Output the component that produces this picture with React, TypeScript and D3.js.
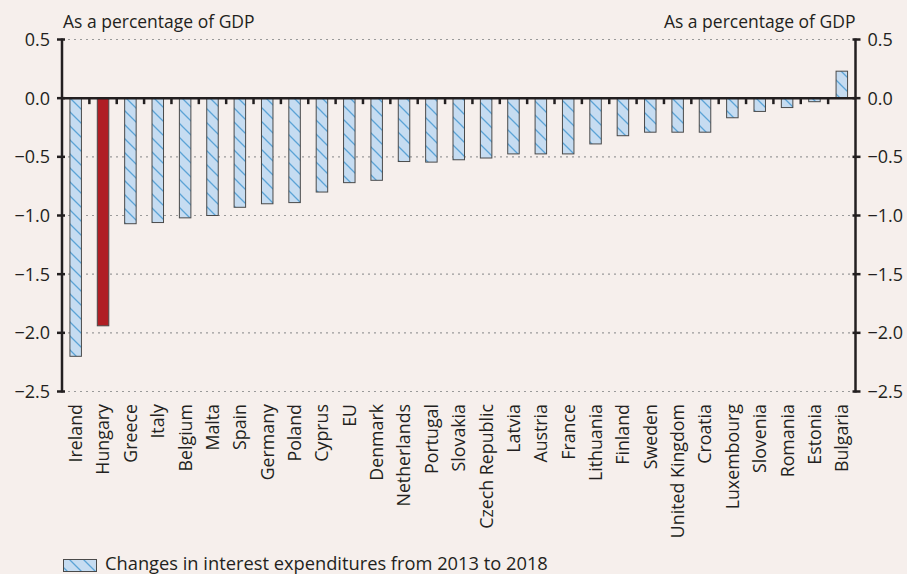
import { useMemo } from "react";
import * as d3 from "d3";

const countries = [
  "Ireland", "Hungary", "Greece", "Italy", "Belgium", "Malta", "Spain", "Germany",
  "Poland", "Cyprus", "EU", "Denmark", "Netherlands", "Portugal", "Slovakia",
  "Czech Republic", "Latvia", "Austria", "France", "Lithuania", "Finland", "Sweden",
  "United Kingdom", "Croatia", "Luxembourg", "Slovenia", "Romania", "Estonia", "Bulgaria",
];

const changes = [
  -2.2, -1.94, -1.07, -1.06, -1.02, -1.0, -0.93, -0.9,
  -0.89, -0.8, -0.72, -0.7, -0.54, -0.545, -0.525,
  -0.51, -0.475, -0.475, -0.475, -0.39, -0.32, -0.29,
  -0.29, -0.29, -0.167, -0.113, -0.08, -0.03, 0.23,
];

const highlighted = "Hungary";
const yTicks = [0.5, 0, -0.5, -1, -1.5, -2, -2.5];
const axisTitle = "As a percentage of GDP";
const legendLabel = "Changes in interest expenditures from 2013 to 2018";

const W = 907;
const H = 574;
const BG = "#f6efec";
const INK = "#231f20";
const FONT = "'Open Sans', sans-serif";

const fmt = (v: number) => (v < 0 ? "\u2212" : "") + Math.abs(v).toFixed(1);

export default function App() {
  const left = 62;
  const right = 855.5;
  const top = 39.5;
  const bottom = 391.5;

  const x = useMemo(
    () => d3.scaleBand().domain(countries).range([left, right]).paddingInner(0).paddingOuter(0),
    []
  );
  const y = useMemo(() => d3.scaleLinear().domain([-2.5, 0.5]).range([bottom, top]), []);
  const bw = 11.5;
  const y0 = y(0);

  return (
    <svg
      width={W}
      height={H}
      style={{ position: "absolute", left: 0, top: 0, display: "block" }}
      fontFamily={FONT}
    >
      <defs>
        <pattern id="hatch" patternUnits="userSpaceOnUse" width="14" height="14">
          <rect width="14" height="14" fill="#c6dcf1" />
          <path d="M-3.5,-3.5 L17.5,17.5 M-3.5,10.5 L3.5,17.5 M10.5,-3.5 L17.5,3.5" stroke="#5ba3d6" strokeWidth="1.3" />
        </pattern>
      </defs>
      <rect width={W} height={H} fill={BG} />

      {/* gridlines */}
      {yTicks
        .filter((t) => t !== 0)
        .map((t) => (
          <line
            key={t}
            x1={left}
            x2={right}
            y1={y(t)}
            y2={y(t)}
            stroke="#9a9a9a"
            strokeWidth={1.2}
            strokeDasharray="2 4"
          />
        ))}

      {/* bars */}
      {countries.map((c, i) => {
        const v = changes[i];
        const cx = (x(c) ?? 0) + x.bandwidth() / 2;
        const yy = Math.min(y(v), y0);
        const h = Math.abs(y(v) - y0);
        return (
          <rect
            key={c}
            x={cx - bw / 2}
            y={yy}
            width={bw}
            height={h}
            fill={c === highlighted ? "#b01e24" : "url(#hatch)"}
            stroke="#4a4a4a"
            strokeWidth={1}
          />
        );
      })}

      {/* zero line + category ticks */}
      <line x1={left} x2={right} y1={y0} y2={y0} stroke={INK} strokeWidth={2.5} />
      {countries.slice(1).map((c) => (
        <line
          key={c}
          x1={x(c) ?? 0}
          x2={x(c) ?? 0}
          y1={y0}
          y2={y0 + 6}
          stroke={INK}
          strokeWidth={2.5}
        />
      ))}

      {/* axes */}
      <line x1={left} x2={left} y1={top - 1} y2={bottom + 1} stroke={INK} strokeWidth={2.5} />
      <line x1={right} x2={right} y1={top - 1} y2={bottom + 1} stroke={INK} strokeWidth={2.5} />
      {yTicks.map((t) => (
        <g key={t}>
          <line x1={left - 5} x2={left + 3} y1={y(t)} y2={y(t)} stroke={INK} strokeWidth={2.5} />
          <line x1={right - 3} x2={right + 5} y1={y(t)} y2={y(t)} stroke={INK} strokeWidth={2.5} />
          <text x={left - 12} y={y(t)} dy="0.36em" textAnchor="end" fontSize={18} fill={INK}>
            {fmt(t)}
          </text>
          <text x={right + 12} y={y(t)} dy="0.36em" textAnchor="start" fontSize={18} fill={INK}>
            {fmt(t)}
          </text>
        </g>
      ))}

      <text x={left + 1} y={28} fontSize={17.5} fill={INK}>
        {axisTitle}
      </text>
      <text x={right} y={28} fontSize={17.5} fill={INK} textAnchor="end">
        {axisTitle}
      </text>

      {/* category labels */}
      {countries.map((c) => {
        const cx = (x(c) ?? 0) + x.bandwidth() / 2;
        return (
          <text
            key={c}
            transform={`translate(${cx},404) rotate(-90)`}
            textAnchor="end"
            dy="0.36em"
            fontSize={17.8}
            fill={INK}
          >
            {c}
          </text>
        );
      })}

      {/* legend */}
      <rect x={63.5} y={559.5} width={33} height={12} fill="url(#hatch)" stroke="#4a4a4a" strokeWidth={1} />
      <text x={105} y={570} fontSize={18.3} fill={INK}>
        {legendLabel}
      </text>
    </svg>
  );
}
